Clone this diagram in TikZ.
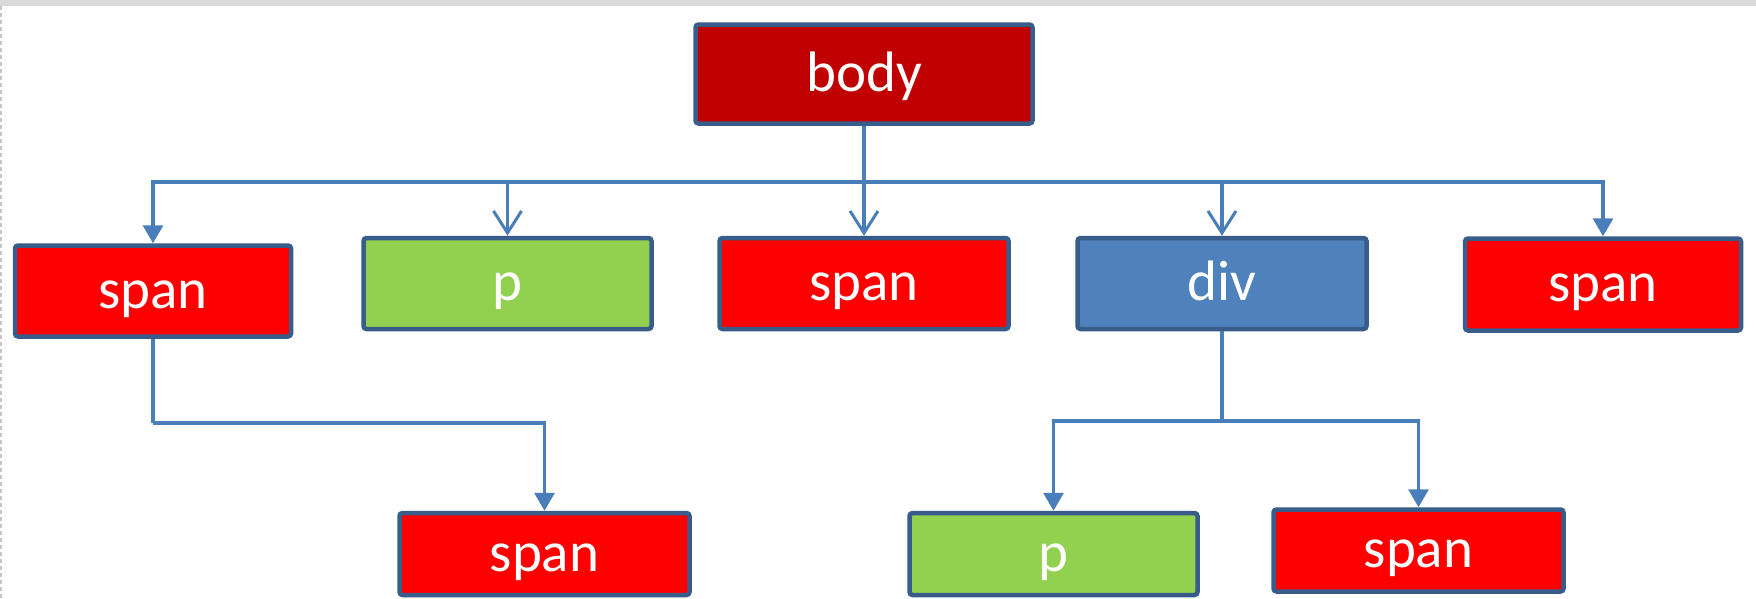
\documentclass[tikz,border=0pt]{standalone}
\usepackage{fontspec}
\setmainfont{Carlito}
\usetikzlibrary{arrows.meta}
\definecolor{outline}{HTML}{385D8A}
\definecolor{wire}{HTML}{4A7EBB}
\definecolor{bodyred}{HTML}{C00000}
\definecolor{spanred}{HTML}{FF0000}
\definecolor{pgreen}{HTML}{92D050}
\definecolor{divblue}{HTML}{4F81BD}
\begin{document}
\begin{tikzpicture}[x=1pt,y=-1pt,
  tag/.style={draw=outline,line width=4.5pt,rounded corners=3pt,inner sep=0pt,
    text=white,font=\fontsize{57pt}{60pt}\selectfont,
    text height=45pt,text depth=11pt,
    minimum width=#1},
  tag/.default=276pt,
  tall/.style={minimum height=91pt},
  short/.style={minimum height=82pt},
  link/.style={draw=wire,line width=3.2pt},
  solidtip/.style={link,-{Triangle[width=20pt,length=18pt]}},
  opentip/.style={link,-{Straight Barb[width=28pt,length=22pt,line width=3pt]}}]
  \useasboundingbox (0,0) rectangle (1756,598);
  \fill[white] (0,0) rectangle (1756,598);
  % frame strip along the top and left edges
  \fill[gray!30] (0,0) rectangle (1756,6);
  \draw[gray!45,line width=2pt,dash pattern=on 4pt off 3pt] (1,6) -- (1,598);

  % root
  \node[tag=337pt,minimum height=99pt,fill=bodyred] (body) at (864,74) {body};

  % first level
  \node[tag,tall,fill=spanred] (span1) at (153,291) {span};
  \node[tag=288pt,tall,fill=pgreen] (p1) at (507.5,283.5) {p};
  \node[tag=289pt,tall,fill=spanred] (span2) at (864,283.5) {span};
  \node[tag=289pt,tall,fill=divblue] (div) at (1222,283.5) {div};
  \node[tag,minimum height=92pt,fill=spanred] (span3) at (1603,284.5) {span};

  % second level
  \node[tag=290pt,short,fill=spanred] (span5) at (544.5,554) {span};
  \node[tag=288pt,short,fill=pgreen] (p2) at (1053.5,554) {p};
  \node[tag=290pt,short,fill=spanred] (span4) at (1418.5,550.5) {span};

  % junctions
  \coordinate (j1) at (864,182);
  \coordinate (j2) at (1222,421);
  \coordinate (j3) at (153,423);

  % body to its children
  \draw[opentip] (body.south) -- (span2.north);
  \draw[solidtip] (j1) -| (span1.north);
  \draw[opentip] (j1) -| (p1.north);
  \draw[opentip] (j1) -| (div.north);
  \draw[solidtip] (j1) -| (span3.north);

  % span to its child
  \draw[link] (span1.south) -- (j3);
  \draw[solidtip] (j3) -| (span5.north);

  % div to its children
  \draw[link] (div.south) -- (j2);
  \draw[solidtip] (j2) -| (p2.north);
  \draw[solidtip] (j2) -| (span4.north);
\end{tikzpicture}
\end{document}
